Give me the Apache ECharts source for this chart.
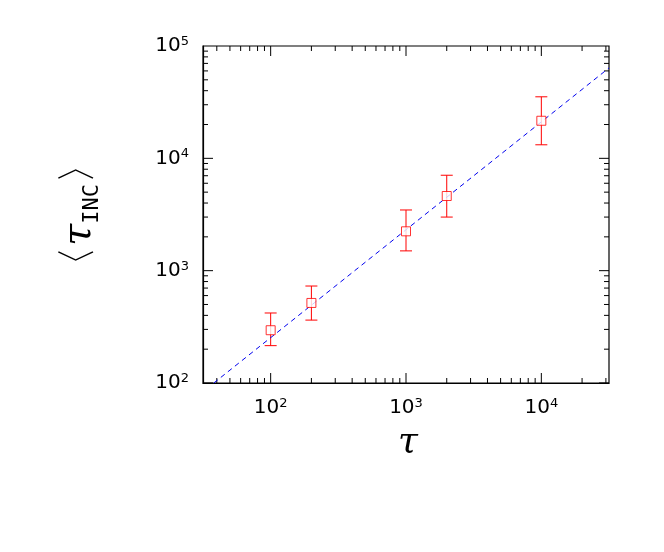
<!DOCTYPE html>
<html><head><meta charset="utf-8">
<script src="https://cdn.jsdelivr.net/npm/echarts@6/dist/echarts.min.js"></script>
<style>html,body{margin:0;background:#fff}#c{width:664px;height:552px}</style></head>
<body><div id="c"></div>
<script>
const tau = [100, 200, 1000, 2000, 10000];
const tauInc = [295, 516, 2240, 4620, 21600];
const errLow = [215, 363, 1500, 3000, 13200];
const errHigh = [420, 730, 3470, 7070, 35300];
const fitLine = [[38, 100], [31623, 63800]];
const xTickLabels = ['10{s|2}', '10{s|3}', '10{s|4}'];
const yTickLabels = ['10{s|2}', '10{s|3}', '10{s|4}', '10{s|5}'];
const L = Math.log10;
const xmin = 1.5, xmax = 4.5, ymin = 2, ymax = 5;

const minorX = [], minorY = [];
for (let d = 1; d <= 4; d++) for (let k = 1; k <= 9; k++) {
  const v = L(k * Math.pow(10, d));
  if (v >= xmin && v <= xmax) minorX.push({v, major: k === 1});
  if (v >= ymin && v <= ymax) minorY.push({v, major: k === 1});
}
const tickData = minorX.map(t => [0, t.v, t.major ? 1 : 0]).concat(minorY.map(t => [1, t.v, t.major ? 1 : 0]));
const rich = {s: {fontSize: 13, verticalAlign: 'top', padding: [0, 0, 9, 0], fontFamily: 'DejaVu Sans'}};
const chart = echarts.init(document.getElementById('c'));
chart.setOption({
  animation: false,
  grid: {left: 203, right: 55, top: 46, bottom: 169},
  xAxis: {type: 'value', min: xmin, max: xmax, interval: 0.5, splitLine: {show: false},
    axisLine: {onZero: false, lineStyle: {color: '#000', width: 1.2}}, axisTick: {show: false},
    axisLabel: {fontSize: 20, color: '#000', fontFamily: 'DejaVu Sans', margin: 14, rich,
      formatter: v => { const i = [2, 3, 4].indexOf(v); return i >= 0 ? xTickLabels[i] : ''; }}},
  yAxis: {type: 'value', min: ymin, max: ymax, interval: 1, splitLine: {show: false},
    axisLine: {onZero: false, lineStyle: {color: '#000', width: 1.2}}, axisTick: {show: false},
    axisLabel: {fontSize: 20, color: '#000', fontFamily: 'DejaVu Sans', margin: 14, rich,
      formatter: v => yTickLabels[v - 2]}},
  graphic: [
    {type: 'rect', shape: {x: 203, y: 46, width: 406, height: 337}, style: {fill: 'none', stroke: '#000', lineWidth: 1.2}, silent: true},
    {type: 'text', x: 408, y: 425, style: {text: 'τ', font: 'italic 36px DejaVu Serif', fill: '#000', textAlign: 'center'}},
    {type: 'text', x: 80, y: 215, rotation: Math.PI / 2,
      style: {text: '〈{t|τ}{s|INC}〉', textAlign: 'center', textVerticalAlign: 'middle', font: '40px DejaVu Sans', fill: '#000',
        rich: {t: {font: 'italic 40px DejaVu Serif'}, s: {font: '22px DejaVu Sans Mono', padding: [24, 0, 0, 0]}}}}
  ],
  series: [
    {type: 'custom', silent: true, data: tickData, renderItem: (p, api) => {
      const ax = api.value(0), v = api.value(1), len = api.value(2) ? 10 : 5;
      const lines = [];
      if (ax === 0) {
        const b = api.coord([v, ymin]), t = api.coord([v, ymax]);
        lines.push([b[0], b[1], b[0], b[1] - len], [t[0], t[1], t[0], t[1] + len]);
      } else {
        const l = api.coord([xmin, v]), r = api.coord([xmax, v]);
        lines.push([l[0], l[1], l[0] + len, l[1]], [r[0], r[1], r[0] - len, r[1]]);
      }
      return {type: 'group', children: lines.map(s => ({type: 'line', shape: {x1: s[0], y1: s[1], x2: s[2], y2: s[3]}, style: {stroke: '#000', lineWidth: 1}}))};
    }},
    {type: 'line', data: fitLine.map(d => [L(d[0]), L(d[1])]), symbol: 'none',
      lineStyle: {color: '#0000ee', type: [5, 4], width: 1}},
    {type: 'custom', data: tau.map((t, i) => [L(t), L(errLow[i]), L(errHigh[i])]), renderItem: (p, api) => {
      const lo = api.coord([api.value(0), api.value(1)]), hi = api.coord([api.value(0), api.value(2)]);
      const st = {stroke: '#ff0000', lineWidth: 1};
      return {type: 'group', children: [
        {type: 'line', shape: {x1: lo[0], y1: lo[1], x2: hi[0], y2: hi[1]}, style: st},
        {type: 'line', shape: {x1: lo[0] - 6, y1: lo[1], x2: lo[0] + 6, y2: lo[1]}, style: st},
        {type: 'line', shape: {x1: hi[0] - 6, y1: hi[1], x2: hi[0] + 6, y2: hi[1]}, style: st}]};
    }},
    {type: 'scatter', data: tau.map((t, i) => [L(t), L(tauInc[i])]), symbol: 'rect', symbolSize: 9,
      itemStyle: {color: '#fff', borderColor: '#ff0000', borderWidth: 1}, z: 5}
  ]
});
</script></body></html>
